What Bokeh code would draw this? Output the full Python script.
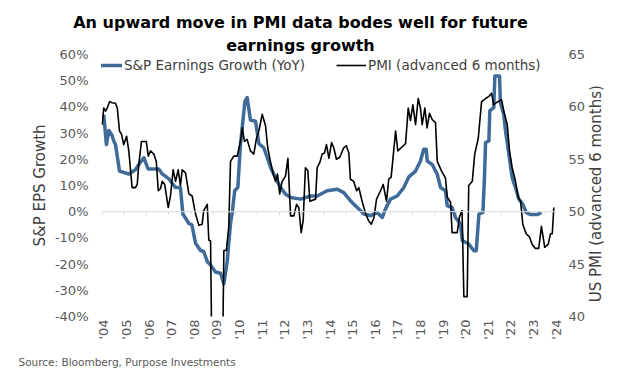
import math
from bokeh.plotting import figure
from bokeh.models import (Range1d, LinearAxis, FixedTicker, PrintfTickFormatter,
                          Span, Legend, LegendItem, Title)
from bokeh.embed import file_html
from bokeh.resources import INLINE

# ---------------- data ----------------
year_ticks = [2004, 2005, 2006, 2007, 2008, 2009, 2010, 2011, 2012, 2013, 2014,
              2015, 2016, 2017, 2018, 2019, 2020, 2021, 2022, 2023, 2024]
year_labels = ["'04", "'05", "'06", "'07", "'08", "'09", "'10", "'11", "'12", "'13", "'14",
               "'15", "'16", "'17", "'18", "'19", "'20", "'21", "'22", "'23", "'24"]
eps_ticks = [-40, -30, -20, -10, 0, 10, 20, 30, 40, 50, 60]
pmi_ticks = [40, 45, 50, 55, 60, 65]

# S&P 500 EPS growth YoY (%) : (decimal year, value)
eps_points = [
    (2004.07, 37.0), (2004.19, 25.6), (2004.30, 31.0), (2004.45, 29.0), (2004.52, 27.0),
    (2004.60, 25.6), (2004.78, 15.5), (2005.20, 14.4), (2005.50, 16.0), (2005.65, 18.0),
    (2005.88, 20.6), (2006.07, 16.3), (2006.55, 16.3), (2006.71, 14.4), (2007.01, 12.5),
    (2007.31, 9.2), (2007.53, 9.2), (2007.64, -0.8), (2007.91, -4.5), (2008.05, -5.0),
    (2008.21, -12.0), (2008.44, -14.8), (2008.58, -15.2), (2008.74, -19.0), (2008.90, -20.5),
    (2009.11, -23.0), (2009.34, -23.5), (2009.49, -27.5), (2009.64, -19.0), (2009.79, -4.5),
    (2009.88, 0.5), (2009.98, 8.0), (2010.12, 9.2), (2010.24, 25.7), (2010.44, 42.0),
    (2010.54, 43.6), (2010.69, 35.0), (2010.92, 34.5), (2011.07, 26.0), (2011.29, 24.4),
    (2011.45, 20.6), (2011.60, 16.8), (2011.82, 13.0), (2012.05, 9.2), (2012.27, 6.7),
    (2012.50, 5.4), (2012.95, 4.8), (2013.40, 6.0), (2013.70, 6.0), (2014.15, 8.0),
    (2014.60, 8.6), (2014.90, 7.3), (2015.20, 4.2), (2015.51, 1.6), (2015.81, -0.9),
    (2016.11, -1.5), (2016.41, -0.3), (2016.64, -2.2), (2016.78, 1.0), (2017.01, 4.8),
    (2017.31, 6.0), (2017.61, 9.2), (2017.84, 13.3), (2018.14, 15.5), (2018.36, 19.3),
    (2018.51, 23.8), (2018.62, 23.8), (2018.67, 19.3), (2018.89, 18.0), (2019.12, 14.3),
    (2019.27, 9.2), (2019.49, 8.0), (2019.57, 2.3), (2019.79, 1.6), (2019.94, -2.2),
    (2020.17, -4.7), (2020.25, -11.0), (2020.54, -12.3), (2020.77, -14.9), (2020.88, -14.9),
    (2021.00, -0.9), (2021.18, -0.3), (2021.25, 13.0), (2021.30, 26.4), (2021.45, 27.0),
    (2021.49, 38.5), (2021.67, 39.7), (2021.72, 51.8), (2021.93, 51.8), (2021.97, 41.6),
    (2022.12, 37.2), (2022.20, 30.9), (2022.35, 22.0), (2022.50, 13.0), (2022.65, 9.2),
    (2022.80, 4.8), (2022.98, 2.9), (2023.13, -0.3), (2023.33, -1.1), (2023.63, -1.1),
    (2023.82, -0.3),
]

# US PMI advanced 6 months : (decimal year, value)
pmi_points = [
    (2004.00, 58.3), (2004.07, 59.9), (2004.15, 59.6), (2004.23, 59.9), (2004.33, 60.5),
    (2004.45, 60.4), (2004.60, 60.35), (2004.68, 59.9), (2004.78, 57.7), (2004.87, 57.4),
    (2004.97, 56.4), (2005.10, 57.2), (2005.20, 55.8), (2005.35, 52.3), (2005.50, 52.3),
    (2005.58, 52.6), (2005.65, 54.5), (2005.77, 56.7), (2005.99, 56.7), (2006.08, 55.3),
    (2006.18, 55.8), (2006.33, 55.5), (2006.44, 54.8), (2006.53, 52.0), (2006.63, 52.2),
    (2006.71, 52.9), (2006.82, 52.6), (2006.98, 50.4), (2007.08, 51.5), (2007.20, 54.0),
    (2007.31, 52.9), (2007.43, 54.0), (2007.53, 52.5), (2007.61, 54.0), (2007.76, 53.7),
    (2007.91, 51.7), (2008.06, 51.5), (2008.21, 49.8), (2008.36, 48.7), (2008.51, 48.8),
    (2008.58, 50.1), (2008.74, 50.7), (2008.81, 47.3), (2008.89, 47.2), (2008.96, 34.0),
    (2009.42, 34.0), (2009.49, 46.3), (2009.60, 46.3), (2009.71, 48.5), (2009.79, 54.8),
    (2009.94, 55.3), (2010.09, 55.3), (2010.24, 56.7), (2010.32, 58.0), (2010.42, 56.7),
    (2010.54, 56.9), (2010.69, 55.8), (2010.84, 55.5), (2010.96, 57.0), (2011.07, 57.7),
    (2011.22, 59.3), (2011.37, 58.2), (2011.47, 56.1), (2011.59, 54.8), (2011.72, 53.6),
    (2011.82, 52.9), (2011.91, 53.6), (2012.01, 51.7), (2012.12, 52.9), (2012.27, 53.4),
    (2012.38, 55.1), (2012.50, 49.6), (2012.65, 49.6), (2012.77, 50.7), (2012.87, 50.4),
    (2012.98, 48.0), (2013.07, 49.2), (2013.17, 54.2), (2013.28, 53.9), (2013.37, 51.0),
    (2013.63, 51.2), (2013.70, 54.2), (2013.82, 54.7), (2013.93, 55.5), (2014.03, 55.6),
    (2014.12, 56.4), (2014.23, 55.1), (2014.35, 56.6), (2014.45, 56.1), (2014.57, 55.0),
    (2014.72, 55.2), (2014.90, 56.1), (2015.02, 56.3), (2015.13, 55.6), (2015.20, 53.1),
    (2015.35, 52.9), (2015.48, 52.0), (2015.58, 52.3), (2015.74, 50.9), (2015.89, 49.8),
    (2016.03, 49.1), (2016.14, 48.8), (2016.26, 49.4), (2016.38, 51.2), (2016.56, 52.0),
    (2016.68, 52.6), (2016.83, 51.0), (2016.93, 53.1), (2017.04, 53.3), (2017.24, 57.7),
    (2017.34, 55.8), (2017.54, 56.2), (2017.69, 56.5), (2017.81, 59.9), (2017.91, 58.7),
    (2018.02, 60.2), (2018.14, 58.3), (2018.26, 60.8), (2018.36, 59.9), (2018.44, 58.3),
    (2018.56, 59.9), (2018.66, 58.0), (2018.77, 59.4), (2018.89, 58.8), (2019.04, 58.5),
    (2019.12, 54.8), (2019.31, 53.9), (2019.49, 53.2), (2019.57, 51.4), (2019.72, 50.9),
    (2019.79, 48.0), (2020.02, 48.0), (2020.12, 49.5), (2020.24, 50.1), (2020.32, 41.9),
    (2020.47, 41.9), (2020.54, 52.5), (2020.70, 52.9), (2020.81, 55.5), (2020.97, 57.0),
    (2021.12, 60.5), (2021.30, 60.8), (2021.45, 61.0), (2021.57, 61.3), (2021.67, 60.2),
    (2021.78, 60.4), (2022.02, 60.7), (2022.12, 59.6), (2022.28, 58.3), (2022.38, 55.8),
    (2022.50, 54.2), (2022.65, 52.9), (2022.77, 51.4), (2022.88, 51.0), (2022.98, 48.8),
    (2023.13, 47.9), (2023.28, 47.6), (2023.40, 46.9), (2023.55, 46.5), (2023.70, 46.5),
    (2023.82, 48.6), (2023.97, 46.6), (2024.13, 46.9), (2024.23, 47.9), (2024.31, 47.9),
    (2024.38, 50.4),
]

eps_x = [d for d, v in eps_points]
eps_y = [v for d, v in eps_points]
pmi_x = [d for d, v in pmi_points]
pmi_y = [v for d, v in pmi_points]

# ---------------- style ----------------
FONT = "DejaVu Sans"
BLUE = "#3E6B9A"
GRAY_TXT = "#595959"
AXIS_GRAY = "#D9D9D9"
NBSP = "\u00a0"

p = figure(width=630, height=381, output_backend="svg", toolbar_location=None,
           x_range=Range1d(2003.968, 2024.501), y_range=Range1d(-40, 60),
           x_axis_location=None, y_axis_location=None,
           min_border_left=101, min_border_right=74, min_border_top=54, min_border_bottom=65)
p.extra_y_ranges = {"pmi": Range1d(40, 65)}
p.extra_x_ranges = {"lbl": Range1d(2003.898, 2024.013)}
p.grid.visible = False
p.outline_line_color = None
p.background_fill_color = "white"
p.border_fill_color = "white"


def style_axis(ax, size):
    ax.axis_line_color = None
    ax.major_tick_line_color = None
    ax.minor_tick_line_color = None
    ax.major_tick_out = 0
    ax.major_tick_in = 0
    ax.minor_tick_out = 0
    ax.minor_tick_in = 0
    ax.major_label_text_font = FONT
    ax.major_label_text_font_size = size
    ax.major_label_text_color = GRAY_TXT
    ax.axis_label_text_font = FONT
    ax.axis_label_text_font_size = "15px"
    ax.axis_label_text_font_style = "normal"
    ax.axis_label_text_color = "#404040"


yl = LinearAxis(ticker=FixedTicker(ticks=eps_ticks), formatter=PrintfTickFormatter(format="%d%%"),
                axis_label="S&P EPS Growth")
style_axis(yl, "13px")
yl.major_label_standoff = 13
yl.axis_label_standoff = 3
p.add_layout(yl, "left")

# right axis title reads bottom-to-top, starting slightly above the frame bottom
yr = LinearAxis(y_range_name="pmi", ticker=FixedTicker(ticks=pmi_ticks),
                axis_label=NBSP * 3 + "US PMI (advanced 6 months)")
style_axis(yr, "13px")
yr.major_label_standoff = 12
yr.axis_label_standoff = 8
try:
    yr.axis_label_orientation = math.pi / 2
    yr.axis_label_align = "start"
except Exception:
    try:
        yr.axis_label = "US PMI (advanced 6 months)"
        yr.axis_label_orientation = "parallel"
    except Exception:
        pass
p.add_layout(yr, "right")

xb = LinearAxis(x_range_name="lbl", ticker=FixedTicker(ticks=year_ticks),
                major_label_overrides={t: l for t, l in zip(year_ticks, year_labels)})
style_axis(xb, "13px")
xb.major_label_orientation = math.pi / 2
xb.major_label_standoff = 3
# a blank, tiny axis label only reserves a little space so the source note sits lower
xb.axis_label = NBSP
xb.axis_label_text_font_size = "1px"
xb.axis_label_standoff = 9
p.add_layout(xb, "below")

# zero line with small year tick marks (horizontal axis crossing at 0)
p.add_layout(Span(location=0, dimension="width", line_color=AXIS_GRAY, line_width=1))
p.segment(x0=year_ticks, y0=[0] * len(year_ticks), x1=year_ticks, y1=[-1.3] * len(year_ticks),
          line_color=AXIS_GRAY, line_width=1)

r_eps = p.line(eps_x, eps_y, line_color=BLUE, line_width=3.5, line_join="round")
r_pmi = p.line(pmi_x, pmi_y, y_range_name="pmi", line_color="black", line_width=1.6,
               line_join="round")

legend = Legend(items=[LegendItem(label="S&P Earnings Growth (YoY)", renderers=[r_eps]),
                       LegendItem(label="PMI (advanced 6 months)", renderers=[r_pmi])],
                orientation="horizontal", location=(-9, 243), padding=0, margin=0,
                spacing=31, label_standoff=2, glyph_width=30, glyph_height=14,
                label_height=14, border_line_color=None, background_fill_alpha=0,
                label_text_font=FONT, label_text_font_size="13.5px",
                label_text_color="#404040")
p.add_layout(legend)

# chart title (two lines) and source note
t2 = Title(text="earnings growth", align="left", offset=124.7, standoff=0,
           vertical_align="bottom", text_font=FONT, text_font_size="16px",
           text_font_style="bold", text_color="black")
p.add_layout(t2, "above")
t1 = Title(text="An upward move in PMI data bodes well for future", align="left",
           offset=-28.3, standoff=4, vertical_align="bottom", text_font=FONT,
           text_font_size="16px", text_font_style="bold", text_color="black")
p.add_layout(t1, "above")

src = Title(text="Source: Bloomberg, Purpose Investments", align="left", offset=-83,
            standoff=0, vertical_align="top", text_font=FONT, text_font_size="10.5px",
            text_font_style="normal", text_color=GRAY_TXT)
p.add_layout(src, "below")

open("out.html", "w").write(file_html(p, INLINE))
